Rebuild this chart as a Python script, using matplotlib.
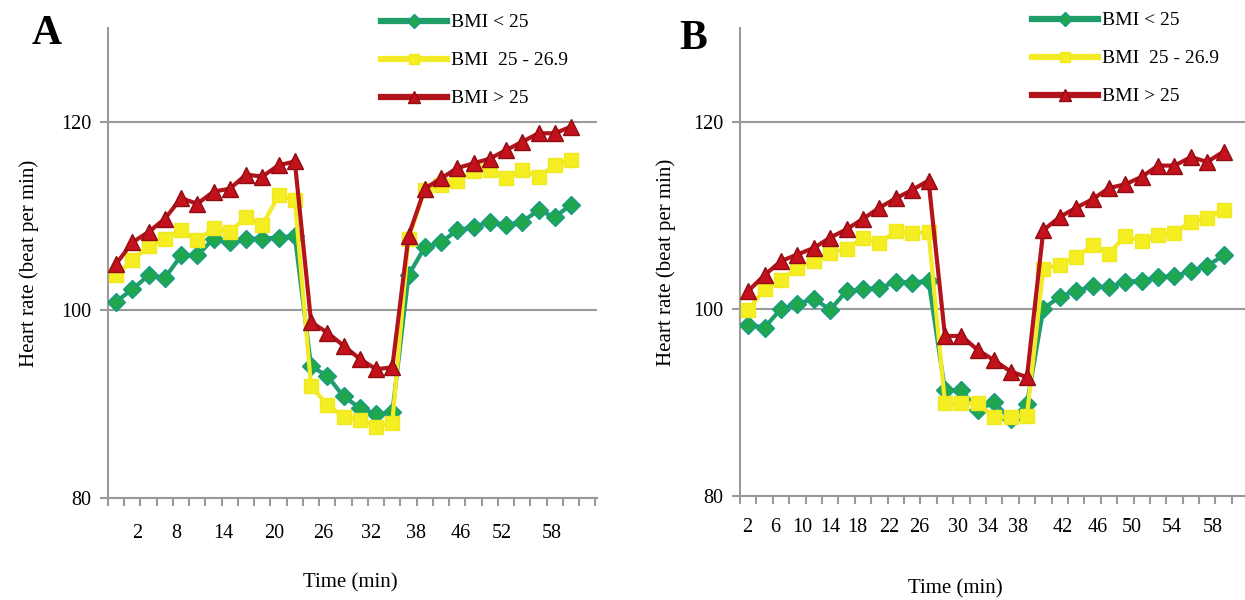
import matplotlib
matplotlib.use("Agg")
import matplotlib.pyplot as plt
import numpy as np
from matplotlib.lines import Line2D

plt.rcParams['font.family'] = ['Liberation Serif', 'DejaVu Serif']

# ---------------- data ----------------
series_names = ["BMI < 25", "BMI  25 - 26.9", "BMI > 25"]

# Panel A (29 readings on a 30-slot category axis)
a_bmi_lt25 = [100.9, 102.2, 103.7, 103.4, 105.8, 105.8, 107.6, 107.2, 107.6, 107.6, 107.7, 107.9,
              94.0, 93.0, 90.8, 89.6, 88.9, 89.1,
              103.7, 106.7, 107.2, 108.5, 108.8, 109.4, 109.0, 109.4, 110.6, 109.9, 111.2]
a_bmi_25_269 = [103.7, 105.3, 106.8, 107.6, 108.5, 107.4, 108.7, 108.3, 109.9, 109.0, 112.2, 111.7,
                91.9, 89.9, 88.6, 88.3, 87.6, 88.0,
                107.6, 112.8, 113.3, 113.7, 114.8, 114.9, 114.0, 114.9, 114.2, 115.4, 116.0]
a_bmi_gt25 = [104.9, 107.2, 108.3, 109.7, 111.9, 111.3, 112.6, 112.9, 114.4, 114.2, 115.4, 115.8,
              98.7, 97.6, 96.2, 94.8, 93.7, 93.9,
              107.9, 112.9, 114.0, 115.1, 115.6, 116.1, 117.0, 117.9, 118.8, 118.8, 119.5]
a_tick_labels = ["2", "8", "14", "20", "26", "32", "38", "46", "52", "58"]

# Panel B (30 readings)
b_bmi_lt25 = [98.3, 98.0, 100.0, 100.5, 101.1, 99.9, 101.9, 102.1, 102.2, 102.9, 102.8, 103.0,
              91.3, 91.3, 89.2, 90.0, 88.2, 89.8,
              100.0, 101.3, 101.9, 102.4, 102.3, 102.9, 103.0, 103.4, 103.5, 104.0, 104.6, 105.7]
b_bmi_25_269 = [99.9, 102.1, 103.1, 104.4, 105.1, 106.0, 106.4, 107.6, 107.0, 108.3, 108.1, 108.2,
                89.9, 89.9, 89.9, 88.4, 88.4, 88.6,
                104.3, 104.7, 105.5, 106.8, 105.9, 107.8, 107.2, 107.9, 108.1, 109.3, 109.7, 110.6]
b_bmi_gt25 = [101.9, 103.6, 105.1, 105.8, 106.5, 107.6, 108.5, 109.6, 110.8, 111.8, 112.7, 113.7,
              97.1, 97.1, 95.6, 94.5, 93.3, 92.7,
              108.4, 109.8, 110.8, 111.7, 112.9, 113.3, 114.1, 115.3, 115.3, 116.2, 115.7, 116.8]
b_tick_labels = ["2", "6", "10", "14", "18", "22", "26", "30", "34", "38", "42", "46", "50", "54", "58"]

# ---------------- layout / style (not data) ----------------
n_slots = 30
a_label_pos = [1.27, 3.73, 6.58, 9.72, 12.73, 15.68, 18.45, 21.22, 23.75, 26.82]
b_label_pos = [-0.07, 1.63, 3.28, 4.99, 6.63, 8.59, 10.41, 12.79, 14.62, 16.45,
               19.2, 21.33, 23.4, 25.84, 28.34]

styles = [
    dict(color="#1f9e6a", marker="D", ms=9.5, mfc="#20a64c", mec="#179a8c", mew=1.0),
    dict(color="#f3eb28", marker="s", ms=9.5, mfc="#f4ee22", mec="#f0e820", mew=1.0),
    dict(color="#b3141b", marker="^", ms=12, mfc="#c4121c", mec="#8e0c12", mew=1.0),
]
GREY = "#9a9a9a"

W, H = 1245, 600
fig = plt.figure(figsize=(W / 100, H / 100), dpi=100)


def px_axes(left, right, top, bottom):
    return fig.add_axes([left / W, 1 - bottom / H, (right - left) / W, (bottom - top) / H])


def style_axes(ax, xmax, tick_labels, label_pos, label_pad):
    ax.set_ylim(80, 130)
    ax.set_xlim(-0.5, xmax)
    for s in ["top", "right"]:
        ax.spines[s].set_visible(False)
    for s in ["left", "bottom"]:
        ax.spines[s].set_color(GREY)
        ax.spines[s].set_linewidth(1.5)
    ax.set_yticks([80, 100, 120])
    ax.tick_params(axis="y", direction="out", length=6, width=1.5, color=GREY,
                   labelsize=14.5, pad=6)
    ax.yaxis.grid(True, color=GREY, linewidth=1.5)
    ax.set_axisbelow(True)
    # category boundary ticks
    ax.set_xticks(np.arange(-0.5, n_slots, 1.0))
    ax.tick_params(axis="x", which="major", direction="out", length=6, width=1.5,
                   color=GREY, labelbottom=False)
    ax.set_xticks(label_pos, minor=True)
    ax.set_xticklabels(tick_labels, minor=True)
    ax.tick_params(axis="x", which="minor", length=0, labelsize=14.5, pad=label_pad)


def draw_panel(ax, data):
    for vals, st, name in zip(data, styles, series_names):
        x = np.arange(len(vals))
        ax.plot(x, vals, lw=3, color=st["color"], marker=st["marker"], ms=st["ms"],
                mfc=st["mfc"], mec=st["mec"], mew=st["mew"], label=name, zorder=3)


# ---- Panel A ----
axA = px_axes(108, 597, 28, 498)
draw_panel(axA, [a_bmi_lt25, a_bmi_25_269, a_bmi_gt25])
style_axes(axA, 29.6, a_tick_labels, a_label_pos, 19)
axA.set_ylabel("Heart rate (beat per min)", fontsize=15, labelpad=16)

# ---- Panel B ----
axB = px_axes(740, 1245, 28, 496)
draw_panel(axB, [b_bmi_lt25, b_bmi_25_269, b_bmi_gt25])
style_axes(axB, 30.3, b_tick_labels, b_label_pos, 16)
axB.set_ylabel("Heart rate (beat per min)", fontsize=15, labelpad=12)

fig.text(350 / W, 1 - 583 / H, "Time (min)", fontsize=15, ha="center", va="center")
fig.text(955 / W, 1 - 589 / H, "Time (min)", fontsize=15, ha="center", va="center")

# legends
def make_handles():
    hs = []
    for st, name in zip(styles, series_names):
        hs.append(Line2D([], [], lw=4.5, color=st["color"], marker=st["marker"],
                         ms=st["ms"] * 0.75, mfc=st["mfc"], mec=st["mec"], label=name))
    return hs

for x0, y0 in [(373, 6), (1024, 4)]:
    fig.legend(handles=make_handles(), loc="upper left",
               bbox_to_anchor=(x0 / W, 1 - y0 / H), frameon=False,
               fontsize=14, handlelength=3.4, handletextpad=0.2,
               labelspacing=1.05, borderaxespad=0)

fig.text(47 / W, 1 - 34 / H, "A", fontsize=30, fontweight="bold", ha="center", va="center")
fig.text(693 / W, 1 - 39 / H, "B", fontsize=30, fontweight="bold", ha="center", va="center")

fig.savefig("out.png", dpi=100)
